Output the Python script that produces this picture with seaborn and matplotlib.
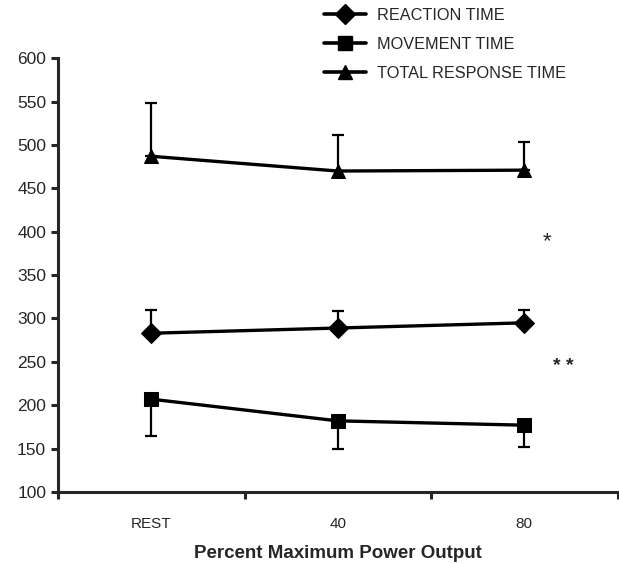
import pandas as pd
import seaborn as sns
import matplotlib.pyplot as plt

# values (ms)
conditions = ["REST", "40", "80"]
reaction_time = [283, 289, 295]
reaction_err = [27, 20, 15]
movement_time = [207, 182, 177]
movement_err = [42, 32, 25]
total_time = [487, 470, 471]
total_err = [62, 41, 32]

series_names = ["REACTION TIME", "MOVEMENT TIME", "TOTAL RESPONSE TIME"]

sns.set_style("ticks")
plt.rcParams["font.family"] = ["Liberation Sans", "DejaVu Sans"]

# long-form table for seaborn
rows = []
for name, vals in zip(series_names, [reaction_time, movement_time, total_time]):
    for i, v in enumerate(vals):
        rows.append({"x": i, "Series": name, "Time": v})
df = pd.DataFrame(rows)

fig = plt.figure(figsize=(6.19, 5.64), dpi=100)
ax = fig.add_axes([0.0937, 0.1277, 0.904, 0.769])

# one-sided error bars: up for reaction/total, down for movement
x = list(range(len(conditions)))
err_kw = dict(fmt="none", ecolor="black", elinewidth=1.6, capsize=4, capthick=1.6)
ax.errorbar(x, reaction_time, yerr=[[0, 0, 0], reaction_err], **err_kw)
ax.errorbar(x, total_time, yerr=[[0, 0, 0], total_err], **err_kw)
ax.errorbar(x, movement_time, yerr=[movement_err, [0, 0, 0]], **err_kw)

sns.lineplot(data=df, x="x", y="Time", style="Series", markers=["D", "s", "^"],
             dashes=False, color="black", linewidth=2.4, markersize=10,
             markeredgecolor="black", ax=ax, legend=False)

# legend placed in figure coordinates
handles = [plt.Line2D([], [], color="black", lw=2.6, marker=m, markersize=10)
           for m in ["D", "s", "^"]]
fig.legend(handles, series_names, loc="upper left", bbox_to_anchor=(0.499, 1.012),
           frameon=False, fontsize=11.7, handlelength=2.6, labelspacing=0.86,
           handletextpad=0.68)

# significance markers
ax.text(2.12, 388, "*", fontsize=16, ha="center", va="center")
ax.text(2.21, 245, "* *", fontsize=14, ha="center", va="center", fontweight="bold")

ax.set_ylim(100, 600)
ax.set_yticks(range(100, 601, 50))
ax.set_xlim(-0.5, 2.5)
ax.set_xticks([-0.5, 0.5, 1.5, 2.5])
ax.set_xticklabels([])
ax.set_xticks(x, minor=True)
ax.set_xticklabels(conditions, minor=True)
ax.tick_params(axis="x", which="minor", length=0, pad=18, labelsize=11)
ax.tick_params(axis="both", which="major", width=2.2, length=5, direction="out",
               labelsize=12.5)
ax.set_xlabel("Percent Maximum Power Output", fontsize=13.5, fontweight="bold", labelpad=10)
ax.set_ylabel("")
for s in ["left", "bottom"]:
    ax.spines[s].set_linewidth(2.2)
sns.despine(ax=ax)

fig.savefig("out.png", dpi=100)
